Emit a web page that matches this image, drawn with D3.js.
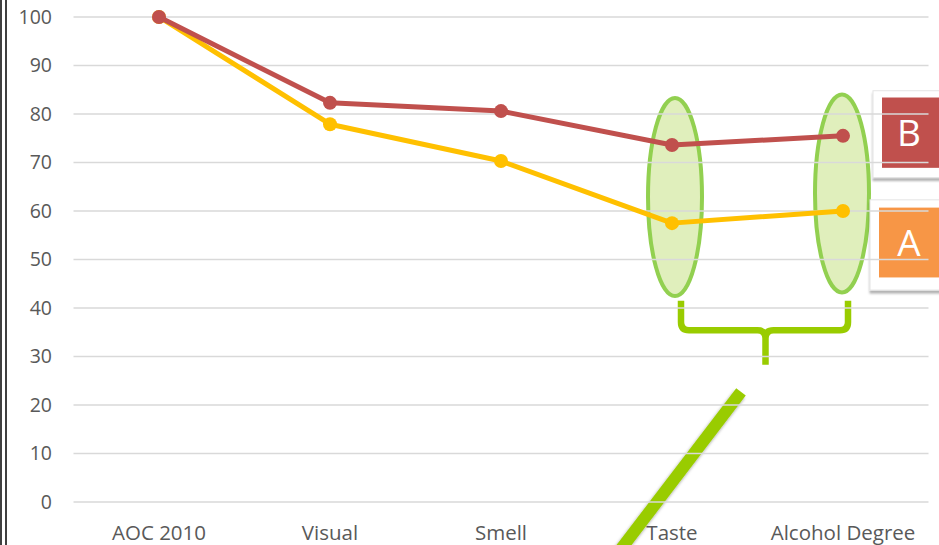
<!DOCTYPE html>
<html>
<head>
<meta charset="utf-8">
<script src="https://cdn.jsdelivr.net/npm/d3@7/dist/d3.min.js"></script>
<style>
  html, body { margin: 0; padding: 0; background: #fff; }
  svg { display: block; font-family: "Open Sans", "Noto Sans", sans-serif; }
</style>
</head>
<body>
<svg id="chart" width="939" height="545"></svg>
<script>
// Sensory scores per evaluation stage
const categories = ["AOC 2010", "Visual", "Smell", "Taste", "Alcohol Degree"];
const seriesB = [100, 82.3, 80.6, 73.6, 75.5];
const seriesA = [100, 77.9, 70.3, 57.5, 60.0];
const yTicks = [0, 10, 20, 30, 40, 50, 60, 70, 80, 90, 100];
const highlighted = ["Taste", "Alcohol Degree"];

const svg = d3.select("#chart");
const W = 939, H = 545;

const x = d3.scaleBand().domain(categories).range([73.5, 928.5]);
const y = d3.scaleLinear().domain([0, 100]).range([502, 17]);
const cx = c => x(c) + x.bandwidth() / 2;

const defs = svg.append("defs");
const sh = defs.append("filter").attr("id", "shadow").attr("x", "-30%").attr("y", "-30%").attr("width", "160%").attr("height", "160%");
sh.append("feDropShadow").attr("dx", -1.5).attr("dy", 2.5).attr("stdDeviation", 1.5).attr("flood-color", "#000").attr("flood-opacity", 0.4);
const bs = defs.append("filter").attr("id", "boxshadow").attr("x", "-20%").attr("y", "-20%").attr("width", "140%").attr("height", "140%");
bs.append("feDropShadow").attr("dx", 0).attr("dy", 3).attr("stdDeviation", 1).attr("flood-color", "#000").attr("flood-opacity", 0.3);

// Double frame at the left edge
svg.append("line").attr("x1", 1).attr("x2", 1).attr("y1", 0).attr("y2", H).attr("stroke", "#000").attr("stroke-width", 1.5);
svg.append("line").attr("x1", 6).attr("x2", 6).attr("y1", 0).attr("y2", H).attr("stroke", "#000").attr("stroke-width", 1.5);

// Highlight ellipses around the last two stages
const ellipseG = svg.append("g");
highlighted.forEach((c, i) => {
  ellipseG.append("ellipse")
    .attr("cx", cx(c) + (i === 0 ? 3 : -1))
    .attr("cy", y((seriesA[categories.indexOf(c)] + seriesB[categories.indexOf(c)]) / 2) + (i === 0 ? 13 : 20))
    .attr("rx", 27).attr("ry", 99)
    .attr("fill", "#E0EFBC")
    .attr("stroke", "#92D050").attr("stroke-width", 4);
});

// Brace grouping the two highlighted stages
const bx1 = cx("Taste") + 9, bx2 = cx("Alcohol Degree") + 5;
const bTop = y(41.5), bMid = y(35.4), bTip = y(28.3), r = 8;
const bmx = (bx1 + bx2) / 2 + 1;
const brace = d3.path();
brace.moveTo(bx1, bTop);
brace.lineTo(bx1, bMid - r);
brace.quadraticCurveTo(bx1, bMid, bx1 + r, bMid);
brace.lineTo(bmx - r, bMid);
brace.quadraticCurveTo(bmx, bMid, bmx, bMid + r);
brace.lineTo(bmx, bTip);
brace.moveTo(bmx, bMid + r);
brace.quadraticCurveTo(bmx, bMid, bmx + r, bMid);
brace.lineTo(bx2 - r, bMid);
brace.quadraticCurveTo(bx2, bMid, bx2, bMid - r);
brace.lineTo(bx2, bTop);
svg.append("path").attr("d", brace.toString())
  .attr("fill", "none").attr("stroke", "#99CC00").attr("stroke-width", 6.5)
  .attr("stroke-linejoin", "round").attr("stroke-linecap", "butt");

// Pointer bar rising toward the brace
svg.append("line")
  .attr("x1", 741).attr("y1", y(22.7))
  .attr("x2", 618).attr("y2", y(-10.5))
  .attr("stroke", "#99CC00").attr("stroke-width", 12)
  .attr("filter", "url(#shadow)");

// Legend boxes
const legend = [
  { label: "B", color: "#C0504D", top: y(84.8), bottom: y(66.9), inTop: y(83.4), inBot: y(68.9), inX: 882, outX: 873 },
  { label: "A", color: "#F79646", top: y(62.3), bottom: y(43.7), inTop: y(60.7), inBot: y(46.3), inX: 879, outX: 870 }
];
legend.forEach(d => {
  svg.append("rect").attr("x", d.outX).attr("y", d.top).attr("width", W - d.outX + 5).attr("height", d.bottom - d.top)
    .attr("fill", "#fff").attr("stroke", "#e4e4e4").attr("stroke-width", 1).attr("filter", "url(#boxshadow)");
  svg.append("rect").attr("x", d.inX).attr("y", d.inTop).attr("width", W - d.inX + 5).attr("height", d.inBot - d.inTop)
    .attr("fill", d.color);
  svg.append("text").attr("x", 909).attr("y", (d.inTop + d.inBot) / 2 + 13)
    .attr("text-anchor", "middle").attr("fill", "#fff").attr("font-size", 37)
    .attr("font-family", "'Open Sans', sans-serif").text(d.label);
});

// Horizontal gridlines
svg.append("g").selectAll("line").data(yTicks).join("line")
  .attr("x1", 73.5).attr("x2", 928.5)
  .attr("y1", d => y(d)).attr("y2", d => y(d))
  .attr("stroke", "#D9D9D9").attr("stroke-width", 1.3);

// Y axis labels
const yAxis = d3.axisLeft(y).tickValues(yTicks).tickSize(0).tickPadding(0);
const yg = svg.append("g").attr("transform", "translate(52,0)").call(yAxis);
yg.select(".domain").remove();
yg.selectAll("text").attr("font-size", 19.5).attr("fill", "#595959").attr("font-family", "'Open Sans', sans-serif");

// X axis labels
const xAxis = d3.axisBottom(x).tickSize(0).tickPadding(0);
const xg = svg.append("g").attr("transform", "translate(0,525)").call(xAxis);
xg.select(".domain").remove();
xg.selectAll("text").attr("font-size", 20.5).attr("fill", "#595959").attr("font-family", "'Open Sans', sans-serif");

// Series lines with markers
const line = d3.line().x((d, i) => cx(categories[i])).y(d => y(d));
[[seriesA, "#FFC000"], [seriesB, "#C0504D"]].forEach(([vals, col]) => {
  svg.append("path").datum(vals).attr("d", line)
    .attr("fill", "none").attr("stroke", col).attr("stroke-width", 5).attr("stroke-linejoin", "round");
  svg.append("g").selectAll("circle").data(vals).join("circle")
    .attr("cx", (d, i) => cx(categories[i])).attr("cy", d => y(d)).attr("r", 7).attr("fill", col);
});
</script>
</body>
</html>
